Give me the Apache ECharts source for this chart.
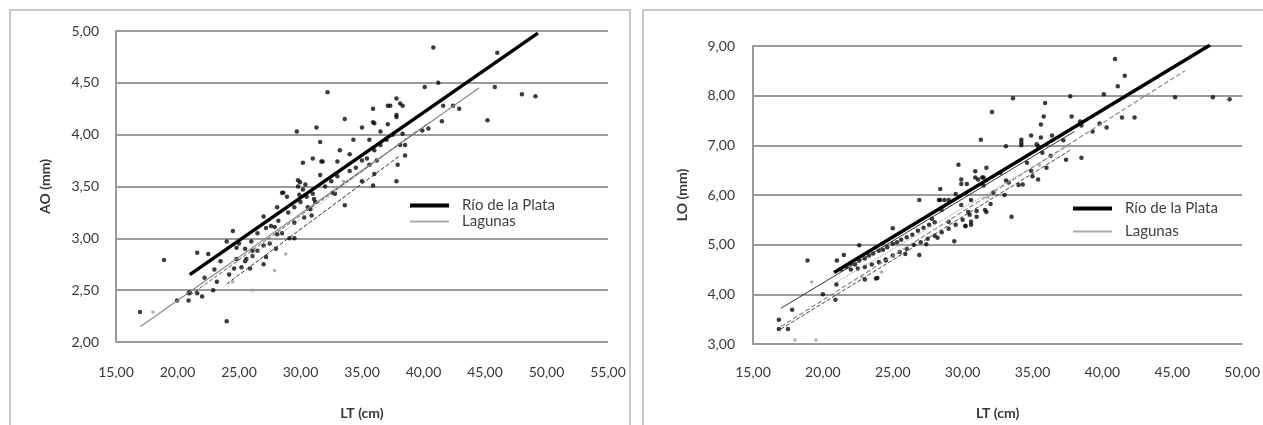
<!DOCTYPE html>
<html>
<head>
<meta charset="utf-8">
<script src="https://cdn.jsdelivr.net/npm/echarts@6/dist/echarts.min.js"></script>
<style>
html,body{margin:0;padding:0;background:#fff;}
#chart{width:1263px;height:425px;}
</style>
</head>
<body>
<div id="chart"></div>
<script>
// ---------- DATA ----------
const seriesNames = ['Río de la Plata', 'Lagunas'];

// Left panel: AO (mm) vs LT (cm)
const leftXTicks = [15, 55, 5];
const leftYTicks = [2, 5, 0.5];
const leftRdpLine = [[21.0, 2.65], [49.3, 4.98]];
const leftLagunasLine1 = [[17.0, 2.15], [44.5, 4.45]];
const leftLagunasLine2 = [[21.0, 2.45], [40.5, 4.12]];
const leftLagunasLine3 = [[24.0, 2.56], [38.0, 3.79]];
const leftLagunasLine4 = [[25.5, 2.78], [39.5, 4.05]];
const leftPoints = [
  [16.95,2.29],[18.9,2.79],[19.96,2.40],[20.9,2.40],[20.9,2.47],[21.6,2.86],[22.0,2.44],[22.5,2.85],
  [22.9,2.50],[23.5,2.78],[24.0,2.20],[24.0,2.97],[24.5,3.07],[24.8,2.80],[24.6,2.71],[25.6,2.80],
  [25.9,2.71],[26.1,2.88],[27.0,2.75],[27.0,2.93],[28.1,3.04],[27.9,3.11],[28.5,3.44],[28.9,3.40],
  [29.1,3.00],[29.5,3.00],[29.7,4.03],[29.96,3.54],[30.2,3.73],[31.0,3.77],[31.3,4.07],[31.6,3.93],
  [31.7,3.74],[32.2,4.41],[32.8,3.43],[33.6,3.32],[33.6,4.15],[34.3,3.95],[35.0,4.07],[35.4,3.77],
  [35.9,4.25],[35.9,3.51],[35.9,4.12],[37.1,4.28],[37.1,4.10],[37.8,4.35],[37.8,3.55],[38.1,4.30],
  [38.5,3.80],[37.8,4.19],[38.3,4.01],[40.8,4.84],[46.0,4.79],[40.1,4.46],[41.2,4.50],[45.8,4.46],
  [48.0,4.39],[49.1,4.37],[45.2,4.14],[41.5,4.13],[39.9,4.04],[40.4,4.06],[41.6,4.28],[42.4,4.28],
  [42.9,4.25],[38.1,3.90],[37.9,3.71],[37.3,4.28],[38.3,4.28],[36.0,4.11],[37.8,4.17],[33.2,3.85],
  [35.6,3.95],[36.5,4.03],[31.8,3.74],[33.0,3.74],[34.0,3.81],[35.6,3.71],[36.2,3.75],[29.8,3.56],
  [31.6,3.61],[32.6,3.44],[38.5,3.90],[23.0,2.70],[24.8,2.91],[25.5,2.78],[26.1,2.83],[27.0,3.21],
  [21.0,2.48],[21.6,2.47],[28.1,3.30],[28.6,3.44],
  [25.0,2.95],[25.5,2.90],[26.0,2.97],[26.5,3.05],[27.2,3.10],[27.6,3.12],[28.2,3.17],[29.0,3.25],
  [29.5,3.30],[30.0,3.35],[30.5,3.40],[30.2,3.47],[29.8,3.50],[30.4,3.52],[31.0,3.43],[31.2,3.35],
  [30.8,3.28],[30.3,3.20],[29.5,3.15],[28.5,3.05],[27.5,2.95],[26.5,2.88],[28.0,2.90],[27.2,2.82],
  [32.0,3.50],[32.5,3.55],[33.0,3.60],[34.0,3.65],[34.5,3.68],[35.0,3.75],[36.0,3.85],[36.5,3.90],
  [37.0,3.95],[37.5,4.00],[36.0,3.62],[35.0,3.55],[30.6,3.30],[30.9,3.22],[31.1,3.38],[29.9,3.42],
  [22.2,2.62],[23.2,2.58],[24.2,2.65],[25.2,2.72]
];
const leftLightPoints = [[18.0,2.29],[27.9,2.69],[26.1,2.50],[24.5,2.58],[28.8,2.85],[33.5,3.55]];

// Right panel: LO (mm) vs LT (cm)
const rightXTicks = [15, 50, 5];
const rightYTicks = [3, 9, 1];
const rightRdpLine = [[20.8, 4.44], [47.7, 9.02]];
const rightLagunasLine1 = [[17.0, 3.35], [45.9, 8.50]];
const rightLagunasLine2 = [[17.0, 3.72], [38.0, 7.28]];
const rightLagunasLine3 = [[17.0, 3.30], [37.8, 6.92]];
const rightLagunasLine4 = [[21.0, 4.25], [37.8, 7.02]];
const rightPoints = [
  [16.85,3.49],[16.85,3.30],[17.5,3.30],[18.9,4.68],[20.0,4.00],[20.9,3.89],[21.0,4.68],[21.5,4.79],
  [20.97,4.20],[22.6,4.99],[23.0,4.30],[23.8,4.32],[24.5,4.68],[25.0,5.33],[25.9,4.81],[26.9,4.79],
  [26.9,5.90],[27.4,5.01],[28.2,5.14],[28.4,6.12],[28.4,5.90],[29.0,5.90],[29.4,5.07],[29.7,6.61],
  [29.9,6.31],[30.2,5.37],[30.6,5.40],[30.9,6.48],[31.1,6.31],[31.5,6.35],[31.7,6.55],[31.3,7.11],
  [31.7,5.66],[32.1,7.67],[33.1,6.98],[33.5,5.56],[33.6,7.95],[34.2,7.11],[34.2,7.05],[37.7,7.99],
  [35.9,7.85],[35.8,7.58],[35.6,7.42],[37.8,7.58],[38.4,7.48],[34.9,7.20],[35.6,7.16],[36.4,7.20],
  [37.2,7.10],[34.2,7.00],[35.3,7.02],[35.4,6.98],[36.3,6.79],[37.4,6.71],[38.5,6.75],[30.9,6.35],
  [31.4,6.35],[29.9,6.22],[30.3,6.22],[31.5,6.19],[32.7,6.45],[33.1,6.29],[34.3,6.21],[34.9,6.49],
  [35.4,6.31],[28.3,5.90],[28.7,5.90],[30.6,5.90],[29.5,6.02],[28.5,5.70],[29.9,5.80],[30.4,5.66],
  [31.6,5.70],[30.2,5.38],[30.6,5.46],[29.0,5.46],[27.8,5.52],[31.0,5.56],[40.9,8.74],[41.6,8.40],
  [41.1,8.19],[40.1,8.03],[45.2,7.97],[47.9,7.97],[49.1,7.93],[41.4,7.56],[42.3,7.56],[40.3,7.36],
  [39.8,7.44],[39.3,7.28],[38.5,7.40],[23.9,4.33],[17.8,3.69],
  [21.3,4.50],[21.7,4.55],[22.0,4.62],[22.3,4.60],[22.6,4.68],[23.0,4.72],[23.3,4.78],[23.6,4.82],
  [24.0,4.88],[24.3,4.90],[24.6,4.95],[25.0,5.02],[25.3,5.05],[25.6,5.10],[26.0,5.15],[26.4,5.20],
  [26.8,5.28],[27.2,5.34],[27.6,5.40],[28.0,5.45],[22.0,4.50],[22.5,4.52],[23.0,4.55],[23.5,4.60],
  [24.0,4.65],[24.5,4.70],[25.0,4.78],[25.5,4.85],[26.0,4.92],[26.5,5.00],[27.0,5.05],[27.5,5.12],
  [28.0,5.18],[28.5,5.25],[29.0,5.32],[29.5,5.40],[30.0,5.50],[30.5,5.60],[31.0,5.68],[32.0,5.82],
  [33.0,6.00],[34.0,6.20],[35.0,6.38],[36.0,6.55],[32.2,6.05],[33.3,6.25],[34.6,6.65],[35.7,6.85]
];
const rightLightPoints = [[18.0,3.08],[19.5,3.08],[19.2,4.25],[22.8,4.35],[24.2,4.45],[31.8,5.95],[35.5,6.60]];

// ---------- CHART ----------
const fmt = v => v.toFixed(2).replace('.', ',');
const axisText = { color: '#383838', fontSize: 14, fontFamily: 'Lato' };
const nameText = { color: '#383838', fontSize: 14, fontWeight: 'bold', fontFamily: 'Lato' };
const gridLine = { show: true, lineStyle: { color: '#9a9a9a', width: 2 } };

function xAxis(gridIndex, ticks, labelMargin, nameGap) {
  return {
    type: 'value', gridIndex, min: ticks[0], max: ticks[1], interval: ticks[2],
    name: 'LT (cm)', nameLocation: 'middle', nameGap, nameTextStyle: nameText,
    axisLine: { show: false }, axisTick: { show: false }, splitLine: { show: false },
    axisLabel: Object.assign({ formatter: fmt, margin: labelMargin }, axisText)
  };
}
function yAxis(gridIndex, ticks, name, labelMargin, nameGap) {
  return {
    type: 'value', gridIndex, min: ticks[0], max: ticks[1], interval: ticks[2],
    name, nameLocation: 'middle', nameGap, nameTextStyle: nameText,
    axisLine: { show: true, lineStyle: { color: '#9a9a9a', width: 2 } },
    axisTick: { show: false }, splitLine: gridLine,
    axisLabel: Object.assign({ formatter: fmt, margin: labelMargin }, axisText)
  };
}
function lineSeries(name, data, idx, color, width, type) {
  return {
    name, type: 'line', data, xAxisIndex: idx, yAxisIndex: idx, symbol: 'none',
    silent: true, animation: false, z: 3, color,
    itemStyle: { color },
    lineStyle: { color, width, type: type || 'solid' }
  };
}
function scatterSeries(data, idx, color, size) {
  return {
    type: 'scatter', data, xAxisIndex: idx, yAxisIndex: idx, symbolSize: size,
    itemStyle: { color }, silent: true, animation: false, z: 2
  };
}
function legend(left, top, gap) {
  return {
    orient: 'vertical', left, top, itemWidth: 39, itemHeight: 14, itemGap: gap, padding: 0,
    selectedMode: false,
    textStyle: { color: '#404040', fontSize: 15, fontFamily: 'Lato', padding: [0, 0, 0, 8] },
    data: [
      { name: seriesNames[0], itemStyle: { opacity: 0 }, lineStyle: { width: 4, color: '#000', type: 'solid' } },
      { name: seriesNames[1], itemStyle: { opacity: 0 }, lineStyle: { width: 2, color: '#aaaaaa', type: 'solid' } }
    ]
  };
}

const chart = echarts.init(document.getElementById('chart'), null, { renderer: 'canvas' });
chart.setOption({
  backgroundColor: '#fff',
  animation: false,
  graphic: [
    { type: 'rect', shape: { x: 10, y: 10, width: 620, height: 440 }, style: { fill: 'none', stroke: '#c8c8c8', lineWidth: 2 }, z: -1 },
    { type: 'rect', shape: { x: 643, y: 10, width: 640, height: 440 }, style: { fill: 'none', stroke: '#c8c8c8', lineWidth: 2 }, z: -1 }
  ],
  grid: [
    { left: 116, right: 1263 - 608, top: 31, bottom: 425 - 348 },
    { left: 753, right: 1263 - 1245, top: 46, bottom: 425 - 350 }
  ],
  xAxis: [xAxis(0, leftXTicks, 23, 64), xAxis(1, rightXTicks, 21, 62)],
  yAxis: [yAxis(0, leftYTicks, 'AO (mm)', 17, 64), yAxis(1, rightYTicks, 'LO (mm)', 18, 64)],
  legend: [legend(408, 198, 1), legend(1071, 201, 8)],
  series: [
    scatterSeries(leftPoints, 0, '#0a0a0a', 4.5),
    scatterSeries(leftLightPoints, 0, '#9a9a9a', 3.5),
    lineSeries(seriesNames[1], leftLagunasLine1, 0, '#8a8a8a', 1.2),
    lineSeries(seriesNames[1], leftLagunasLine2, 0, '#555', 1, 'dashed'),
    lineSeries(seriesNames[1], leftLagunasLine3, 0, '#333', 1, 'dashed'),
    lineSeries(seriesNames[1], leftLagunasLine4, 0, '#999', 1, 'dotted'),
    lineSeries(seriesNames[0], leftRdpLine, 0, '#000', 3.5),
    scatterSeries(rightPoints, 1, '#0a0a0a', 4.5),
    scatterSeries(rightLightPoints, 1, '#9a9a9a', 3.5),
    lineSeries(seriesNames[1], rightLagunasLine1, 1, '#8a8a8a', 1.2, 'dashed'),
    lineSeries(seriesNames[1], rightLagunasLine2, 1, '#333', 1),
    lineSeries(seriesNames[1], rightLagunasLine3, 1, '#444', 1, 'dashed'),
    lineSeries(seriesNames[1], rightLagunasLine4, 1, '#999', 1, 'dotted'),
    lineSeries(seriesNames[0], rightRdpLine, 1, '#000', 3.5)
  ]
});
</script>
</body>
</html>
